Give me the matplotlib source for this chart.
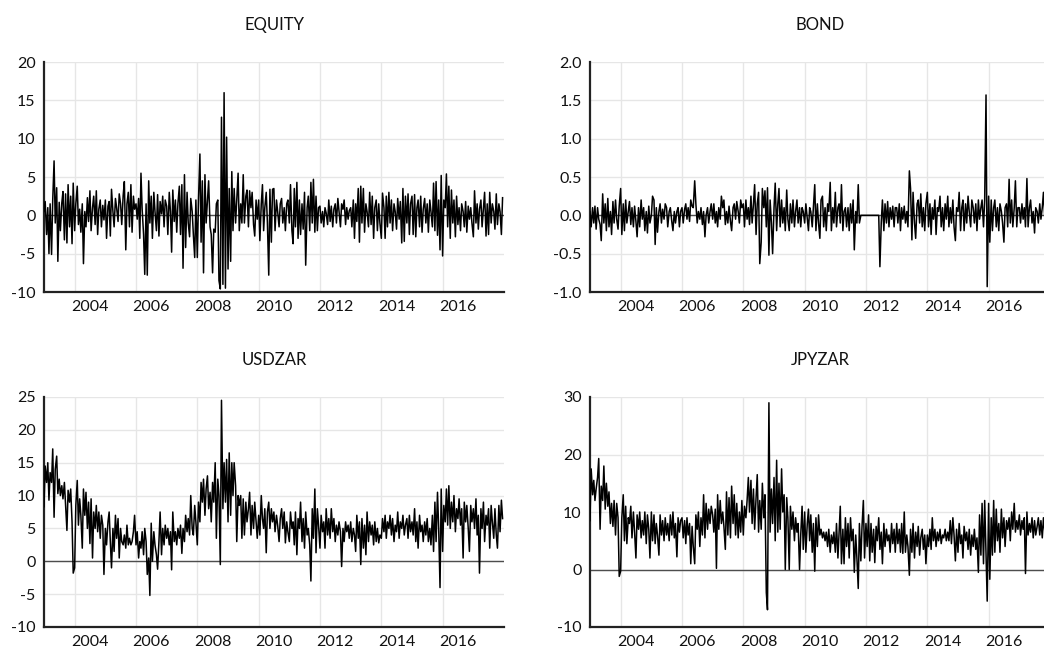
import numpy as np
import pandas as pd
import matplotlib
matplotlib.use("Agg")
import matplotlib.pyplot as plt

plt.rcParams['font.family'] = ['Lato', 'DejaVu Sans']

# semi-monthly returns, one row per year 2003..2017
equity = [
    0.5, 1.8, -2.5, 1.0, -5.0, 1.5, -5.1, 2.0, 7.1, -1.0, 3.6, -6.0, 1.7, -2.0, 1.6, 3.1, -3.2, 2.8, -3.6, 4.0, -1.5, 2.5, -3.7, 4.2,
    -2.0, 1.5, 3.8, -1.2, 0.8, -2.2, 1.5, -6.3, 0.5, -1.5, 2.3, -0.8, 3.2, -2.0, 1.0, 2.5, -1.2, 3.2, -2.5, 0.8, 2.0, -1.5, 1.3, -0.6,
    2.0, -3.0, 1.2, 1.8, -2.7, 3.4, 0.5, -1.5, 2.2, 1.0, -0.8, 2.8, 1.5, -1.2, 2.6, 4.4, -4.5, 1.5, 3.0, -1.5, 4.0, -2.2, 2.5, 0.8,
    1.5, -0.5, 2.2, -3.0, 5.5, 0.8, -2.5, -7.7, 1.5, -7.8, 4.5, -1.0, 2.5, -3.0, 3.0, 0.5, -2.0, 2.7, -2.7, 1.8, 0.2, 2.5, -1.5, 2.0,
    1.2, -2.5, 3.0, 0.5, -4.8, 3.3, -0.8, 2.0, -2.2, 1.5, 3.8, -2.5, 4.0, -6.9, 5.3, -4.2, 3.0, -1.0, -2.8, 2.2, 0.5, -2.5, -5.5, 2.0,
    -5.5, 2.0, 8.0, -3.5, 4.5, -7.5, 5.3, -1.0, 2.0, 4.5, -1.5, -2.5, -7.5, -1.8, -2.2, 1.5, 2.0, -8.5, -9.6, 12.8, -9.0, 16.0, -9.5, 10.2,
    -7.0, 3.5, -6.0, 5.7, -2.0, 3.5, -1.0, 2.0, 5.5, -2.0, 1.5, -1.0, 5.3, -1.0, 2.5, 3.3, -1.5, 3.2, 1.0, 3.0, -1.2, -2.7, 2.0, -0.5,
    2.0, -3.3, 1.5, 4.0, -2.0, 1.0, 3.0, -1.0, -7.8, 3.4, -3.5, 3.4, 3.5, -2.0, 2.0, 0.5, -1.5, 1.5, 2.2, -1.0, 1.0, -2.0, 1.5, 2.0,
    -1.0, 4.0, -2.0, -3.7, 3.5, -1.5, 4.3, -3.0, 2.0, -2.5, 1.5, -1.8, 3.0, -6.5, 1.0, 2.5, -2.0, 4.3, -1.0, 4.7, -2.2, 2.5, -2.0, 1.0,
    1.2, -1.0, 0.5, -1.5, 1.0, 0.3, -1.2, 2.0, -0.8, 1.2, -1.5, 0.8, 1.5, -1.0, 2.2, 0.5, -1.5, 1.5, 0.8, 2.0, -1.2, 1.0, -0.5, 0.6,
    1.0, -1.5, 2.0, -3.0, 1.5, -0.8, 3.5, -3.5, 3.8, -1.0, 3.5, -2.2, 1.5, 0.5, -1.5, 3.0, -1.2, 2.5, -3.0, 1.0, 2.0, -2.0, 1.5, -1.0,
    -3.0, 2.9, 1.0, -3.0, 2.5, -1.5, 3.0, -1.0, 2.0, -2.0, 1.5, 0.5, -1.8, 2.2, -0.5, 1.8, -3.6, 3.5, -3.4, 2.5, -1.0, 2.8, -2.5, 1.5,
    2.5, -2.5, 2.7, -2.8, 1.0, 2.0, -1.5, 2.5, -2.2, 0.8, 2.2, -1.0, 1.5, -2.2, 2.0, 0.5, -1.5, 4.2, -2.0, 4.4, -2.6, 2.0, -4.5, 5.2,
    -5.3, 2.0, 1.0, 5.4, -1.5, 3.8, -3.0, 3.3, -1.0, 2.0, -2.8, 2.5, -1.2, 1.0, -2.0, 1.5, 0.5, -1.5, 1.8, -2.2, 1.2, -0.5, 1.0, -1.0,
    -2.8, 3.2, -1.0, 1.5, -1.8, 0.8, 2.0, -1.5, 1.0, 3.0, -2.7, 1.5, -2.5, 3.0, -1.0, 1.5, 0.5, -1.8, 2.8, -1.2, 1.5, 0.5, -2.5, 2.3,
]

bond = [
    0.05, -0.15, 0.1, -0.1, 0.12, -0.18, 0.1, -0.05, -0.12, -0.33, 0.28, -0.1, 0.15, -0.2, 0.22, -0.15, 0.05, -0.25, 0.18, -0.1, 0.2, -0.05, -0.18, 0.12,
    0.35, -0.25, 0.15, -0.2, 0.2, -0.1, 0.05, 0.18, -0.12, 0.1, -0.15, 0.12, -0.08, -0.28, 0.1, -0.15, 0.2, -0.05, 0.1, -0.2, 0.05, -0.23, 0.12, -0.1,
    0.0, 0.25, 0.2, -0.38, 0.1, -0.22, 0.05, 0.15, -0.1, 0.08, -0.05, 0.15, 0.1, -0.15, 0.05, 0.1, -0.08, -0.2, 0.05, -0.1, 0.05, 0.1, -0.15, 0.05,
    0.1, -0.1, 0.08, 0.15, -0.05, 0.1, -0.08, 0.2, 0.12, 0.1, 0.45, 0.15, -0.1, 0.05, -0.05, 0.1, -0.12, 0.05, -0.28, 0.0, 0.1, -0.1, 0.05, 0.15,
    -0.05, 0.15, -0.1, 0.05, -0.15, 0.1, -0.05, 0.25, 0.1, 0.2, -0.12, 0.05, -0.1, 0.12, -0.08, -0.2, 0.1, 0.15, -0.05, 0.18, 0.05, -0.1, 0.2, 0.1,
    0.15, -0.15, 0.2, -0.05, 0.1, -0.12, 0.25, -0.1, 0.15, 0.4, -0.25, 0.15, 0.3, -0.63, -0.35, 0.35, 0.1, 0.32, -0.15, 0.36, -0.52, 0.2, -0.1, -0.5,
    0.1, 0.42, -0.2, 0.15, 0.35, -0.15, 0.2, -0.1, 0.1, -0.2, 0.33, -0.05, -0.2, 0.15, -0.1, 0.2, -0.15, 0.05, 0.2, -0.1, 0.1, -0.15, 0.1, 0.05,
    -0.1, 0.15, -0.05, -0.2, 0.1, 0.05, -0.15, 0.1, 0.4, -0.2, 0.15, -0.1, -0.3, 0.2, 0.25, -0.15, 0.1, -0.2, 0.15, 0.05, 0.43, -0.2, 0.1, -0.1,
    0.3, -0.15, 0.1, 0.15, -0.1, 0.4, -0.2, 0.05, 0.1, -0.15, 0.1, -0.2, 0.15, -0.1, 0.2, -0.45, 0.05, -0.1, 0.4, -0.1, 0.0, 0.0, 0.0, 0.0,
    0.0, 0.0, 0.0, 0.0, 0.0, 0.0, 0.0, 0.0, 0.0, 0.0, 0.0, -0.67, -0.1, 0.2, -0.2, 0.15, -0.1, 0.18, -0.15, 0.1, -0.05, 0.12, -0.15, 0.1,
    0.1, -0.1, 0.15, -0.2, 0.1, -0.05, 0.12, -0.1, 0.05, -0.15, 0.58, 0.35, -0.32, 0.3, -0.1, -0.3, 0.15, 0.2, -0.1, 0.28, -0.15, 0.1, -0.2, 0.15,
    0.3, -0.15, 0.15, -0.25, 0.1, -0.05, 0.2, -0.25, 0.1, 0.05, 0.25, -0.15, 0.1, -0.2, 0.15, -0.05, 0.25, -0.15, 0.1, -0.1, 0.2, -0.15, -0.33, 0.1,
    0.05, 0.3, -0.2, 0.1, 0.2, -0.2, 0.15, -0.1, 0.25, 0.05, -0.15, 0.2, 0.1, -0.1, 0.15, -0.2, 0.2, -0.05, 0.1, 0.2, -0.15, 0.2, 1.57, -0.93,
    0.25, -0.35, 0.2, -0.2, 0.1, 0.2, -0.15, 0.1, -0.2, 0.15, 0.05, -0.1, -0.35, 0.1, 0.15, -0.15, 0.47, -0.1, 0.2, -0.15, 0.1, 0.45, -0.15, 0.1,
    0.1, -0.1, 0.15, -0.05, 0.1, -0.15, 0.48, -0.15, 0.1, 0.2, -0.1, 0.05, -0.23, 0.1, 0.05, -0.1, 0.15, -0.05, 0.1, 0.3, -0.05, 0.1, 0.05, -0.1,
]

usdzar = [
    8.3, 14.5, 12.0, 15.0, 9.3, 13.5, 12.0, 17.1, 6.7, 14.0, 16.0, 10.3, 12.5, 10.0, 11.5, 9.5, 12.0, 8.5, 4.7, 10.8, 9.0, 11.0, 6.0, -1.8,
    -1.0, 8.5, 12.3, 5.5, 9.5, 7.0, 2.0, 11.0, 7.0, 10.5, 5.0, 9.0, 2.7, 9.5, 0.5, 7.5, 5.0, 8.5, 4.5, 7.5, 3.5, 7.0, 5.5, -2.0,
    5.0, 2.5, 6.0, 7.5, 3.0, -1.0, 5.0, 1.5, 7.0, 3.5, 6.5, 0.5, 5.0, 3.0, 2.5, 4.0, 2.0, 5.5, 2.5, 3.5, 2.5, 3.0, 4.5, 7.0,
    2.5, 4.5, 0.5, 3.0, 2.0, 4.5, 1.0, 5.0, 3.0, -2.0, 0.5, -5.2, 5.8, 0.0, 4.5, 2.5, 1.0, -1.2, 3.0, 7.5, 1.0, 5.0, 2.5, 5.5,
    3.5, 5.0, 2.5, 4.5, -1.3, 7.5, 3.0, 4.5, 2.5, 5.0, 3.5, 5.5, 1.2, 5.0, 3.0, 7.0, 4.5, 6.5, 4.0, 10.0, 5.0, 4.0, 8.5, 6.0,
    2.5, 9.0, 6.0, 12.0, 9.0, 12.5, 7.0, 11.0, 13.0, 8.0, 10.5, 6.0, 12.0, 9.0, 15.0, 3.5, 12.5, 10.0, -0.5, 24.5, 8.0, 15.0, 9.0, 15.5,
    6.0, 16.5, 7.0, 15.0, 10.0, 15.0, 11.5, 3.0, 10.0, 8.5, 10.0, 3.5, 9.5, 4.0, 9.0, 6.0, 8.0, 10.5, 4.0, 8.5, 5.0, 9.0, 6.0, 3.5,
    7.0, 4.0, 10.0, 6.5, 5.0, 8.0, 1.3, 7.5, 9.0, 5.0, 8.0, 6.0, 7.5, 4.5, 7.0, 5.5, 3.0, 6.5, 8.0, 5.0, 7.5, 2.8, 6.0, 4.5,
    3.0, 7.5, 5.0, 6.0, 2.5, 7.5, 1.0, 6.5, 5.0, 9.0, 3.0, 6.5, 2.0, 7.5, 4.0, 5.0, 2.5, -3.0, 8.0, 3.5, 11.0, 1.3, 8.0, 5.5,
    2.0, 7.0, 4.5, 6.0, 2.0, 8.0, 4.0, 6.5, 3.5, 8.0, 4.5, 6.5, 3.0, 5.5, 4.0, 6.0, 4.5, -0.8, 5.0, 3.0, 6.0, 4.5, 5.5, 3.5,
    6.0, 3.0, 5.0, 4.0, 1.5, 7.0, 3.5, 6.0, -0.5, 6.5, 2.0, 5.5, 1.0, 7.5, 3.0, 6.0, 4.0, 5.5, 2.5, 6.0, 3.0, 5.0, 2.8, 4.0,
    3.5, 6.5, 4.5, 7.0, 3.5, 6.0, 5.0, 7.0, 4.0, 6.5, 3.0, 5.5, 4.5, 7.5, 3.5, 6.0, 5.0, 7.0, 4.0, 5.5, 6.5, 3.5, 7.0, 4.5,
    6.0, 4.0, 8.0, 3.0, 6.0, 2.0, 7.0, 4.5, 5.5, 3.0, 6.0, 4.0, 6.5, 3.0, 5.0, 2.5, 7.0, 1.5, 9.0, 3.0, 10.5, 5.0, -4.0, 11.0,
    1.5, 8.5, 6.0, 11.0, 5.5, 11.5, 5.0, 9.0, 6.0, 10.0, 4.5, 8.0, 6.5, 9.5, 5.5, 8.0, 0.5, 9.0, 6.0, 8.5, 5.0, 1.5, 8.5, 6.0,
    8.0, 5.0, 9.5, 4.0, 7.0, -1.8, 8.0, 5.0, 9.0, 3.0, 7.0, 5.5, 8.0, 2.0, 8.5, 6.0, 3.5, 8.0, 4.0, 2.0, 8.5, 4.5, 9.3, 6.5,
]

jpyzar = [
    8.5, 17.5, 13.0, 15.5, 12.0, 14.0, 16.0, 19.3, 7.0, 14.5, 12.0, 18.0, 10.5, 15.0, 11.0, 13.5, 8.0, 11.5, 7.5, 12.0, 6.0, 11.5, 9.0, -1.2,
    -0.3, 9.0, 13.0, 5.0, 11.0, 4.5, 9.0, 8.0, 11.0, 5.5, 10.0, 6.5, 2.0, 9.5, 7.0, 10.0, 5.5, 8.5, 6.0, 10.0, 4.5, 9.5, 7.0, 2.0,
    10.0, 5.0, 9.5, 4.5, 8.0, 6.0, 2.5, 9.5, 6.0, 8.5, 5.0, 9.0, 6.0, 8.0, 5.0, 9.5, 6.0, 10.0, 5.5, 8.0, 2.2, 9.0, 6.5, 8.5,
    9.0, 5.5, 8.5, 4.5, 9.0, 6.0, 8.0, 1.0, 7.5, 4.0, 1.0, 9.5, 7.0, 10.0, 4.0, 9.0, 6.0, 13.0, 5.5, 11.5, 7.0, 10.5, 8.0, 11.0,
    9.5, 6.5, 10.5, 0.2, 13.0, 7.0, 12.0, 8.0, 10.0, 7.5, 3.5, 13.5, 6.0, 12.5, 5.5, 14.5, 8.0, 13.0, 6.0, 11.5, 5.5, 10.0, 6.5, 12.0,
    6.0, 11.0, 9.0, 12.0, 16.0, 10.0, 15.5, 8.0, 14.0, 7.0, 12.5, 16.5, 6.5, 12.0, 7.0, 15.0, 9.0, 13.0, -4.0, -7.0, 29.0, 6.5, 14.0, 8.0,
    16.0, 5.0, 19.0, 6.5, 15.0, 7.0, 17.5, 10.0, 13.0, 0.0, 12.5, 9.0, 0.0, 11.0, 7.0, 10.0, 5.0, 9.0, 6.5, 8.0, 0.0, 6.0, 11.0, 3.5,
    10.0, 3.0, 8.0, 10.5, 5.0, 9.5, 3.0, 8.0, -0.3, 9.0, 4.0, 9.5, 6.0, 7.0, 5.5, 6.5, 5.0, 6.5, 4.0, 7.0, 3.0, 6.0, 4.5, 6.5,
    3.0, 8.0, 2.0, 6.5, 11.0, 1.0, 7.0, 1.0, 9.0, 4.0, 8.0, 2.0, 9.0, 5.0, 7.0, -0.5, 6.0, 2.0, -3.3, 8.0, 1.5, 7.5, 12.0, 2.0,
    8.0, 4.0, 9.5, 1.5, 8.0, 3.0, 7.0, 1.2, 7.5, 5.0, 9.0, 3.5, 6.5, 1.0, 8.0, 4.0, 7.0, 5.0, 6.0, 3.0, 8.0, 4.5, 7.0, 3.0,
    8.0, 4.5, 7.0, 3.0, 8.0, 2.8, 10.0, 3.0, 6.0, 4.0, -1.0, 7.0, 3.0, 8.0, 2.0, 6.5, 4.0, 7.5, 2.5, 5.5, 7.0, 3.5, 6.0, 1.0,
    6.0, 4.0, 7.0, 3.5, 9.0, 5.0, 7.0, 4.0, 6.5, 5.0, 7.0, 4.5, 6.0, 5.5, 7.0, 5.0, 6.5, 5.0, 8.5, 4.5, 9.0, 6.0, 1.5, 7.0,
    3.0, 8.0, 4.5, 6.0, 2.0, 7.5, 5.0, 6.5, 3.5, 7.0, 2.5, 6.0, 4.0, 7.0, 3.5, 5.5, -0.5, 9.5, 2.5, 11.5, 1.0, 12.0, 3.0, -5.5,
    11.5, -1.7, 9.0, 2.5, 12.0, 3.0, 10.5, 5.0, 8.0, 3.0, 10.5, 5.5, 9.0, 4.0, 8.5, 7.0, 9.0, 5.0, 10.0, 7.0, 11.5, 6.5, 8.5, 7.0,
    9.5, 6.0, 8.5, 7.0, 9.0, -0.7, 10.0, 6.0, 8.0, 6.5, 9.0, 5.5, 8.5, 6.0, 7.5, 9.0, 6.0, 8.5, 5.5, 9.0, 6.5, 8.0, 3.5, 7.5,
]

titles = ['EQUITY', 'BOND', 'USDZAR', 'JPYZAR']
series = [equity, bond, usdzar, jpyzar]
yticks = [
    [-10, -5, 0, 5, 10, 15, 20],
    [-1.0, -0.5, 0.0, 0.5, 1.0, 1.5, 2.0],
    [-10, -5, 0, 5, 10, 15, 20, 25],
    [-10, 0, 10, 20, 30],
]
ylabels = [
    [str(v) for v in yticks[0]],
    ['%.1f' % v for v in yticks[1]],
    [str(v) for v in yticks[2]],
    [str(v) for v in yticks[3]],
]
year_labels = ['2004', '2006', '2008', '2010', '2012', '2014', '2016']

W, H = 1044, 650
fig = plt.figure(figsize=(W / 100, H / 100), dpi=100)

# pixel boxes: left, top (width/height shared)
boxes = [(44, 62), (590, 62), (44, 397), (590, 397)]
aw, ah = 460, 230

grid_dates = pd.to_datetime([y + '-01-01' for y in year_labels])
label_dates = pd.to_datetime([y + '-07-01' for y in year_labels])

for i in range(4):
    left, top = boxes[i]
    ax = fig.add_axes([left / W, 1 - (top + ah) / H, aw / W, ah / H])
    vals = series[i]
    dates = pd.date_range('2003-01-01', periods=len(vals), freq='SMS')
    ax.axhline(0, color='#4d4d4d', lw=1.0, zorder=2)
    ax.plot(dates, vals, color='black', lw=1.1, zorder=3)
    ax.set_xlim(pd.Timestamp('2003-01-01'), pd.Timestamp('2018-01-01'))
    ax.set_ylim(yticks[i][0], yticks[i][-1])
    ax.set_yticks(yticks[i])
    ax.set_yticklabels(ylabels[i])
    ax.set_xticks(grid_dates)
    ax.set_xticklabels([])
    ax.set_xticks(label_dates, minor=True)
    ax.set_xticklabels(year_labels, minor=True)
    ax.tick_params(which='both', length=0, labelsize=11.5, colors='#111111')
    ax.tick_params(axis='y', pad=6)
    ax.tick_params(axis='x', which='minor', pad=6)
    ax.grid(True, which='major', color='#e6e6e6', lw=1.0, zorder=0)
    ax.set_axisbelow(True)
    for s in ['top', 'right']:
        ax.spines[s].set_visible(False)
    for s in ['left', 'bottom']:
        ax.spines[s].set_color('#222222')
        ax.spines[s].set_linewidth(1.6)
    ax.text(0.5, 1 + 37 / ah, titles[i], transform=ax.transAxes,
            ha='center', va='center', fontsize=12, color='#111111')

fig.savefig('out.png', dpi=100)
